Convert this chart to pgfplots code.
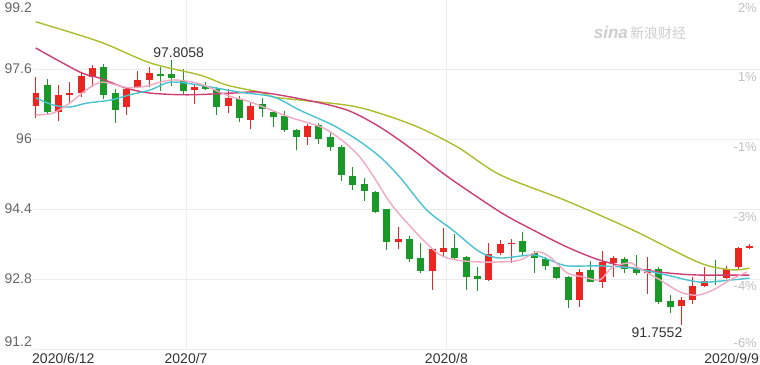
\documentclass[border=0pt]{standalone}
\usepackage{fontspec}
\setmainfont{Liberation Sans}
\newfontfamily\cjk{Noto Sans CJK SC}
\usepackage{pgfplots}
\pgfplotsset{compat=1.18}
\usepackage{pgfplotstable}

\definecolor{cred}{RGB}{235,38,33}
\definecolor{cgreen}{RGB}{26,152,40}
\definecolor{colive}{RGB}{170,190,45}
\definecolor{cmag}{RGB}{205,62,115}
\definecolor{ccyan}{RGB}{72,195,210}
\definecolor{cpink}{RGB}{240,168,195}
\definecolor{gridc}{RGB}{236,236,236}
\definecolor{lab}{RGB}{102,102,102}
\definecolor{labr}{RGB}{192,192,192}
\definecolor{dark}{RGB}{51,51,51}

% up candles (red): close > open
\pgfplotstableread{
i o h l c
0 96.75 97.42 96.48 97.06
2 96.62 97.23 96.42 97.01
3 97.01 97.30 96.80 97.06
4 97.06 97.52 96.97 97.44
5 97.41 97.69 97.20 97.62
8 96.73 97.19 96.55 97.14
9 97.20 97.56 97.19 97.35
10 97.36 97.65 97.20 97.50
14 97.12 97.23 96.80 97.20
17 96.75 97.14 96.59 96.93
19 96.43 96.82 96.22 96.75
24 96.04 96.34 95.86 96.30
32 93.65 94.00 93.48 93.72
35 92.98 93.50 92.55 93.48
36 93.42 93.96 93.33 93.52
40 92.78 93.62 92.76 93.38
41 93.39 93.69 93.35 93.59
42 93.59 93.71 93.17 93.63
48 92.32 93.02 92.15 92.97
50 92.74 93.45 92.59 93.20
51 93.17 93.33 92.85 93.27
54 92.93 93.30 92.46 93.02
57 92.18 92.38 91.7552 92.32
58 92.32 92.85 92.23 92.64
59 92.65 93.07 92.62 92.76
61 92.82 93.10 92.81 93.02
62 93.07 93.53 93.02 93.50
63 93.52 93.60 93.48 93.55
}\upc

% down candles (green): close < open
\pgfplotstableread{
i o h l c
1 97.23 97.37 96.58 96.61
6 97.65 97.71 96.91 97.01
7 97.05 97.14 96.37 96.66
11 97.49 97.65 97.10 97.43
12 97.49 97.8058 97.21 97.39
13 97.33 97.60 97.03 97.10
15 97.21 97.31 97.12 97.14
16 97.14 97.18 96.55 96.74
18 96.91 96.98 96.40 96.47
20 96.80 96.93 96.50 96.68
21 96.61 96.65 96.27 96.51
22 96.53 96.65 96.17 96.21
23 96.21 96.22 95.76 96.04
25 96.32 96.36 95.89 95.99
26 96.05 96.14 95.73 95.81
27 95.82 95.86 95.05 95.18
28 95.15 95.37 94.83 94.95
29 94.97 95.12 94.59 94.82
30 94.80 94.82 94.32 94.33
31 94.39 94.40 93.46 93.65
33 93.72 93.78 93.20 93.25
34 93.27 93.63 92.93 92.98
37 93.52 93.83 93.23 93.27
38 93.30 93.33 92.56 92.84
39 92.87 93.07 92.53 92.79
43 93.68 93.88 93.35 93.42
44 93.40 93.45 92.94 93.27
45 93.25 93.31 93.01 93.10
46 93.07 93.08 92.79 92.82
47 92.85 92.86 92.13 92.32
49 93.01 93.22 92.73 92.74
52 93.25 93.31 92.93 93.03
53 93.02 93.35 92.89 92.93
55 93.02 93.07 92.23 92.28
56 92.30 92.43 92.02 92.17
60 92.76 93.23 92.66 92.74
}\downc

\begin{document}
\begin{tikzpicture}[font=\fontsize{14bp}{16bp}\selectfont]
\begin{axis}[
  at={(0,0)}, anchor=south west,
  width=727bp, height=350bp, scale only axis,
  xmin=-0.24, xmax=63.93, ymin=91.2, ymax=99.2,
  clip mode=individual,
  axis line style={draw=none},
  tick style={draw=none},
  /pgf/number format/assume math mode=true,
  ytick={92.8,94.4,96,97.6},
  yticklabels={92.8,94.4,96,97.6},
  extra y ticks={91.2,99.2},
  extra y tick labels={},
  extra y tick style={grid=major},
  yticklabel style={text=lab, inner sep=0pt, anchor=east, xshift=-1bp},
  xtick={13.27,36.25},
  xticklabels={2020/7,2020/8},
  xticklabel style={text=dark, anchor=center, yshift=-9bp},
  xmajorgrids, ymajorgrids,
  grid style={draw=gridc, line width=1bp},
  candle/.style={draw=none, mark=none, forget plot,
    error bars/y dir=plus, error bars/y explicit, error bars/error mark=none},
]
% wicks
\addplot[candle, error bars/error bar style={line width=1bp, draw=cred}]
  table[x=i, y=l, y error expr=\thisrow{h}-\thisrow{l}] {\upc};
\addplot[candle, error bars/error bar style={line width=1bp, draw=cgreen}]
  table[x=i, y=l, y error expr=\thisrow{h}-\thisrow{l}] {\downc};
% bodies
\addplot[candle, error bars/error bar style={line width=7bp, draw=cred}]
  table[x=i, y=o, y error expr=\thisrow{c}-\thisrow{o}] {\upc};
\addplot[candle, error bars/error bar style={line width=7bp, draw=cgreen}]
  table[x=i, y=c, y error expr=\thisrow{o}-\thisrow{c}] {\downc};

% moving averages
\addplot[colive, line width=1.4bp, smooth, mark=none] coordinates {
(0,98.68) (5.68,98.22) (10.1,97.74) (14.5,97.46) (16.9,97.23) (19.8,97.07)
(21,96.96) (23.3,96.89) (28.4,96.73) (33.3,96.32) (37.2,95.82) (41.0,95.18)
(46.9,94.58) (52.7,93.92) (58.6,93.17) (61.5,93.01) (63,93.05)};
\addplot[cmag, line width=1.4bp, smooth, mark=none] coordinates {
(0,98.08) (3.9,97.53) (5.68,97.39) (7.9,97.17) (10.1,97.05) (13.4,97.01)
(17.4,97.05) (19.8,97.07) (23.9,96.89) (27.5,96.66) (30.4,96.27) (33.3,95.75)
(36.3,95.15) (41.0,94.33) (43.9,93.92) (46.9,93.53) (49.8,93.23) (52.7,93.05)
(55.7,92.94) (58.6,92.89) (63,92.89)};
\addplot[ccyan, line width=1.4bp, smooth, mark=none] coordinates {
(0,96.94) (1.5,96.78) (3.0,96.73) (4.5,96.82) (6.6,96.89) (8.3,97.01)
(10.1,97.12) (11.9,97.30) (14.5,97.23) (18.0,97.07) (21.0,96.96) (23.3,96.66)
(26.2,96.32) (28.4,95.98) (30.4,95.59) (32.2,95.11) (34.5,94.38) (36.8,93.92)
(39.2,93.42) (41.0,93.28) (43.9,93.35) (45.4,93.23) (46.9,93.10) (49.8,93.10)
(52.7,93.05) (55.7,92.89) (58.6,92.73) (61.5,92.78) (63,92.82)};
\addplot[cpink, line width=1.4bp, smooth, mark=none] coordinates {
(0,96.55) (1.5,96.59) (3.0,96.82) (4.1,97.05) (5.1,97.23) (5.9,97.30)
(7.2,97.23) (8.3,97.17) (9.8,97.21) (11.0,97.30) (12.3,97.35) (14.5,97.26)
(17.1,96.98) (18.9,96.85) (22.4,96.50) (25.7,96.21) (28.6,95.59) (31.3,94.54)
(32.8,94.08) (34.2,93.69) (35.7,93.35) (37.2,93.23) (39.2,93.19) (41.0,93.19)
(42.7,93.23) (44.3,93.42) (45.4,93.30) (46.9,92.94) (48.3,92.85) (49.8,92.78)
(50.9,93.07) (52.5,93.17) (53.1,93.07) (55.1,92.78) (56.9,92.50) (58.4,92.43)
(59.8,92.55) (61.3,92.78) (62.8,92.96)};

% annotations
\node[anchor=south, text=dark, inner sep=0pt, xshift=7bp, yshift=2bp] at (axis cs:12,97.8058) {97.8058};
\node[anchor=north east, text=dark, inner sep=0pt, yshift=-3bp, xshift=1bp] at (axis cs:57,91.7552) {91.7552};

% end labels
\node[anchor=east, text=lab, inner sep=0pt, xshift=-1bp, yshift=-9bp] at (rel axis cs:0,1) {99.2};
\node[anchor=east, text=lab, inner sep=0pt, xshift=-1bp, yshift=7bp] at (rel axis cs:0,0) {91.2};
\node[anchor=west, text=dark, inner sep=0pt, xshift=-1bp, yshift=-9bp] at (rel axis cs:0,0) {2020/6/12};
\node[anchor=east, text=dark, inner sep=0pt, xshift=-1bp, yshift=-9bp] at (rel axis cs:1,0) {2020/9/9};

% right percent labels
\begin{scope}[every node/.style={anchor=east, text=labr, inner sep=0pt, xshift=-3bp, font=\fontsize{13bp}{15bp}\selectfont}]
\node[yshift=-9bp] at (axis cs:63.93,99.2) {2\%};
\node[yshift=-8bp] at (axis cs:63.93,97.6) {1\%};
\node[yshift=-8bp] at (axis cs:63.93,96) {-1\%};
\node[yshift=-8bp] at (axis cs:63.93,94.4) {-3\%};
\node[yshift=-7bp] at (axis cs:63.93,92.8) {-4\%};
\node[yshift=6bp] at (axis cs:63.93,91.2) {-6\%};
\end{scope}

% watermark
\node[text=labr!80, inner sep=0pt] at (rel axis cs:0.835,0.903) {{\fontsize{17bp}{18bp}\selectfont\bfseries\itshape sina}\,{\cjk\fontsize{14bp}{16bp}\selectfont 新浪财经}};
\end{axis}
\pgfresetboundingbox
\path[use as bounding box] (-33bp,-16bp) rectangle (727bp,349bp);
\end{tikzpicture}
\end{document}
